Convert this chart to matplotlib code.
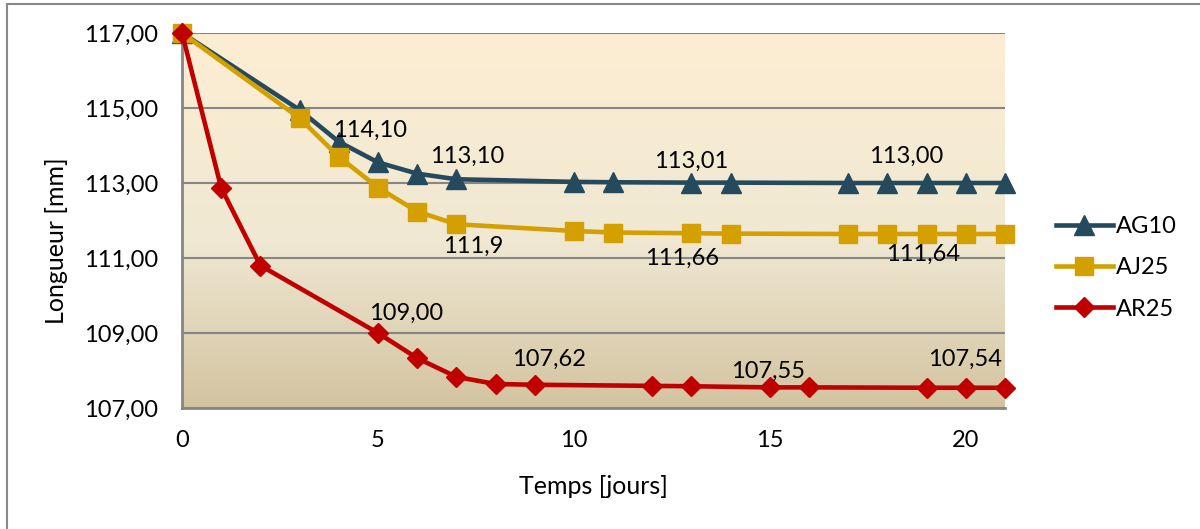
import matplotlib.pyplot as plt
import numpy as np
from matplotlib.colors import LinearSegmentedColormap
from matplotlib.patches import Rectangle

plt.rcParams['font.family'] = ['Lato', 'DejaVu Sans']

# Mesures : longueur des éprouvettes en fonction du temps
jours_ag_aj = [0, 3, 4, 5, 6, 7, 10, 11, 13, 14, 17, 18, 19, 20, 21]
ag10 = [117.00, 114.95, 114.10, 113.55, 113.25, 113.10, 113.03, 113.02,
        113.01, 113.01, 113.00, 113.00, 113.00, 113.00, 113.00]
aj25 = [117.00, 114.73, 113.70, 112.88, 112.24, 111.90, 111.72, 111.68,
        111.66, 111.65, 111.64, 111.64, 111.64, 111.64, 111.64]

jours_ar = [0, 1, 2, 5, 6, 7, 8, 9, 12, 13, 15, 16, 19, 20, 21]
ar25 = [117.00, 112.87, 110.80, 109.00, 108.33, 107.83, 107.64, 107.62,
        107.59, 107.58, 107.55, 107.55, 107.54, 107.54, 107.54]

yticks = [107, 109, 111, 113, 115, 117]
xticks = [0, 5, 10, 15, 20]

# étiquettes : (série, indice du point, décimales, décalage en pixels)
etiquettes = [
    ('AG10', 2, 2, (31, 11)),
    ('AG10', 5, 2, (11, 23)),
    ('AG10', 8, 2, (0, 21)),
    ('AG10', 11, 2, (19, 27)),
    ('AJ25', 5, 1, (17, -22)),
    ('AJ25', 8, 2, (-9, -25)),
    ('AJ25', 12, 2, (-4, -20)),
    ('AR25', 3, 2, (28, 20)),
    ('AR25', 7, 2, (14, 25)),
    ('AR25', 10, 2, (-2, 16)),
    ('AR25', 13, 2, (-1, 28)),
]

fig = plt.figure(figsize=(12, 5.29), dpi=100)
ax = fig.add_axes([182 / 1200, 1 - 408 / 529, (1005 - 182) / 1200, (408 - 33) / 529])

# fond dégradé de la zone de traçage
fond = LinearSegmentedColormap.from_list(
    'fond', [(0, '#D3C4A0'), (0.45, '#F0E8D3'), (1, '#FDEED2')])
grad = np.linspace(0, 1, 256).reshape(-1, 1)
ax.imshow(grad, cmap=fond, origin='lower', extent=[0, 1, 0, 1],
          transform=ax.transAxes, aspect='auto', zorder=0)

series = {
    'AG10': (jours_ag_aj, ag10, '#254A5E', '^', 14),
    'AJ25': (jours_ag_aj, aj25, '#D4A000', 's', 13),
    'AR25': (jours_ar, ar25, '#C00000', 'D', 10),
}
for nom, (x, y, c, m, ms) in series.items():
    ax.plot(x, y, color=c, marker=m, markersize=ms, linewidth=3.3,
            label=nom, zorder=3, clip_on=False)

for nom, i, dec, (dx, dy) in etiquettes:
    x, y = series[nom][0], series[nom][1]
    texte = f"{y[i]:.{dec}f}".replace('.', ',')
    ax.annotate(texte, xy=(x[i], y[i]), xytext=(dx * 0.72, dy * 0.72),
                textcoords='offset points', ha='center', va='center',
                fontsize=17, zorder=4)

ax.set_xlim(0, 21)
ax.set_ylim(107, 117)
ax.set_xticks(xticks)
ax.set_yticks(yticks)
ax.set_yticklabels([f"{v:.2f}".replace('.', ',') for v in yticks])
ax.tick_params(axis='both', length=0, labelsize=17)
ax.tick_params(axis='y', pad=17)
ax.tick_params(axis='x', pad=16)
ax.grid(axis='y', color='#868686', linewidth=1.5, zorder=1)
ax.set_axisbelow(True)

for s in ['top', 'right']:
    ax.spines[s].set_visible(False)
for s in ['left', 'bottom']:
    ax.spines[s].set_color('#868686')
    ax.spines[s].set_linewidth(2)
    ax.spines[s].set_zorder(2)

ax.set_xlabel('Temps [jours]', fontsize=18)
ax.set_ylabel('Longueur [mm]', fontsize=18)
ax.xaxis.set_label_coords((593 - 182) / (1005 - 182), -(475 - 408) / 375)
ax.yaxis.set_label_coords(-(182 - 68) / 823, (408 - 241) / 375)

ax.legend(loc='center left', bbox_to_anchor=(1056 / 1200, 1 - 268 / 529),
          bbox_transform=fig.transFigure, frameon=False, fontsize=17,
          handlelength=2.4, handletextpad=0.15, labelspacing=0.85,
          borderpad=0, borderaxespad=0)

# cadre du graphique
fig.add_artist(Rectangle((7 / 1200, -0.1), 1.2, 1.1 - 4 / 529,
                         transform=fig.transFigure, fill=False,
                         edgecolor='#888888', linewidth=1.5))

plt.savefig('out.png', dpi=100)
